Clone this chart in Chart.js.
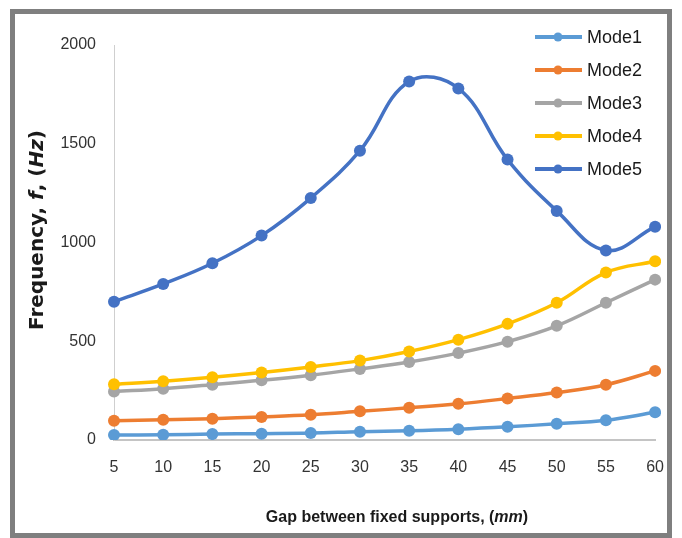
<!DOCTYPE html>
<html>
<head>
<meta charset="utf-8">
<script src="https://cdn.jsdelivr.net/npm/chart.js@4.4.1/dist/chart.umd.min.js"></script>
<style>
  html, body { margin: 0; padding: 0; background: #fff; }
  #wrap { position: relative; width: 682px; height: 538px; }
  #frame { position: absolute; left: 10px; top: 9px; width: 652px; height: 519px; border: 5px solid #7f7f7f; pointer-events: none; }
  canvas { position: absolute; left: 0; top: 0; }
</style>
</head>
<body>
<div id="wrap">
  <canvas id="freqChart" width="682" height="538"></canvas>
  <div id="frame"></div>
</div>
<script>
// Gap between fixed supports (mm)
const gaps = [5, 10, 15, 20, 25, 30, 35, 40, 45, 50, 55, 60];

// Natural frequencies (Hz)
const mode1 = [25, 26, 30, 32, 35, 42, 47, 55, 67, 82, 100, 140];
const mode2 = [98, 102, 108, 117, 128, 145, 163, 183, 210, 240, 280, 350];
const mode3 = [245, 260, 280, 302, 328, 360, 395, 440, 498, 578, 695, 812];
const mode4 = [282, 298, 318, 342, 370, 402, 448, 508, 588, 695, 848, 905];
const mode5 = [700, 790, 895, 1035, 1225, 1465, 1815, 1780, 1420, 1160, 960, 1080];

const seriesNames = ["Mode1", "Mode2", "Mode3", "Mode4", "Mode5"];
const seriesValues = [mode1, mode2, mode3, mode4, mode5];
const seriesColors = ["#5b9bd5", "#ed7d31", "#a5a5a5", "#ffc000", "#4472c4"];

const yTicks = [0, 500, 1000, 1500, 2000];

const tickFont = { family: "'Liberation Sans', sans-serif", size: 16 };

// draws a line of text made of several font pieces, centred on (0,0)
function drawPieces(ctx, pieces) {
	let total = 0;
	pieces.forEach((p) => {
		ctx.font = p[1];
		total += ctx.measureText(p[0]).width;
	});
	let x = -total / 2;
	pieces.forEach((p) => {
		ctx.font = p[1];
		ctx.fillText(p[0], x, 0);
		x += ctx.measureText(p[0]).width;
	});
}

const extras = {
	id: "extras",
	afterDraw(chart) {
		const ctx = chart.ctx;
		ctx.save();
		ctx.fillStyle = "#1a1a1a";
		ctx.textBaseline = "middle";
		ctx.textAlign = "left";

		// legend, top right inside the plot
		chart.data.datasets.forEach((ds, i) => {
			const y = 37 + i * 33;
			ctx.strokeStyle = ds.borderColor;
			ctx.lineWidth = 4;
			ctx.beginPath();
			ctx.moveTo(535, y);
			ctx.lineTo(582, y);
			ctx.stroke();
			ctx.fillStyle = ds.borderColor;
			ctx.beginPath();
			ctx.arc(558, y, 4.5, 0, Math.PI * 2);
			ctx.fill();
			ctx.fillStyle = "#1a1a1a";
			ctx.font = "18px 'Liberation Sans', sans-serif";
			ctx.fillText(ds.label, 587, y + 1);
		});

		// y axis title
		const yb = "bold 20px 'DejaVu Sans', sans-serif";
		const yi = "italic bold 20px 'DejaVu Sans', sans-serif";
		ctx.save();
		ctx.translate(38, 230);
		ctx.rotate(-Math.PI / 2);
		drawPieces(ctx, [["Frequency, ", yb], ["f", yi], [", (", yb], ["Hz", yi], [")", yb]]);
		ctx.restore();

		// x axis title
		const xb = "bold 16px 'Liberation Sans', sans-serif";
		const xi = "italic bold 16px 'Liberation Sans', sans-serif";
		ctx.save();
		ctx.translate(397, 518);
		drawPieces(ctx, [["Gap between fixed supports, (", xb], ["mm", xi], [")", xb]]);
		ctx.restore();

		ctx.restore();
	},
};

const ctx = document.getElementById("freqChart").getContext("2d");
new Chart(ctx, {
	type: "line",
	data: {
		labels: gaps,
		datasets: seriesNames.map((name, i) => ({
			label: name,
			data: seriesValues[i],
			borderColor: seriesColors[i],
			backgroundColor: seriesColors[i],
			borderWidth: 3.5,
			pointRadius: 6,
			pointHoverRadius: 6,
			pointBorderWidth: 0,
			tension: 0.4,
			order: seriesNames.length - i,
		})),
	},
	options: {
		responsive: false,
		animation: false,
		layout: { padding: { top: 45, right: 26, left: 0, bottom: 0 } },
		plugins: {
			legend: { display: false },
			tooltip: { enabled: false },
		},
		scales: {
			x: {
				type: "category",
				offset: false,
				grid: { display: false, drawTicks: false },
				border: { display: true, color: "#c4c4c4", width: 2 },
				ticks: { font: tickFont, color: "#333", padding: 18, maxRotation: 0 },
				afterFit: (s) => { s.height = 98; },
			},
			y: {
				min: 0,
				max: 2000,
				afterBuildTicks: (s) => { s.ticks = yTicks.map((v) => ({ value: v })); },
				grid: { display: false, drawTicks: false },
				border: { display: true, color: "#cfcfcf", width: 1 },
				ticks: { font: tickFont, color: "#333", padding: 18, callback: (v) => String(v) },
				afterFit: (s) => { s.width = 114; },
			},
		},
	},
	plugins: [extras],
});
</script>
</body>
</html>
